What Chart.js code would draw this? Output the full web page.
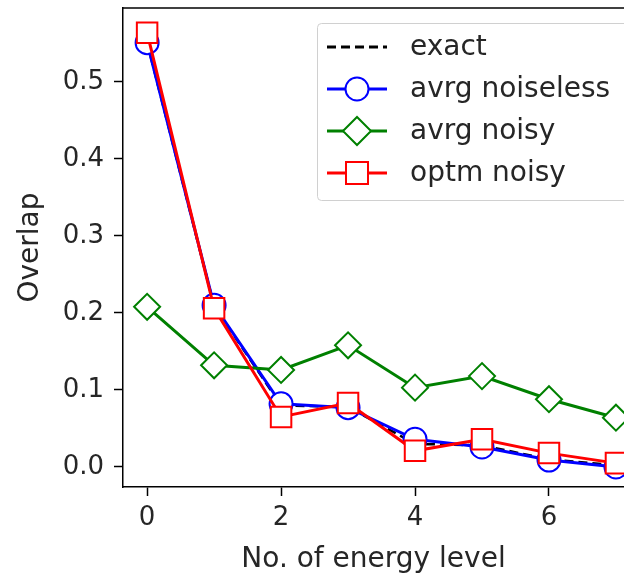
<!DOCTYPE html>
<html>
<head>
<meta charset="utf-8">
<script src="https://cdn.jsdelivr.net/npm/chart.js@4.4.1/dist/chart.umd.min.js"></script>
<style>
  html, body { margin: 0; padding: 0; background: #fff; }
  #wrap { width: 624px; height: 574px; }
</style>
</head>
<body>
<div id="wrap"><canvas id="overlapChart" width="624" height="574"></canvas></div>
<script>
// energy level index
var levels = [0, 1, 2, 3, 4, 5, 6, 7];
var exact = [0.551, 0.209, 0.080, 0.078, 0.030, 0.028, 0.010, 0.002];
var avrgNoiseless = [0.551, 0.210, 0.082, 0.077, 0.036, 0.026, 0.009, 0.000];
var avrgNoisy = [0.208, 0.132, 0.126, 0.158, 0.103, 0.118, 0.088, 0.064];
var optmNoisy = [0.564, 0.206, 0.065, 0.083, 0.021, 0.036, 0.018, 0.005];
var xTicks = [0, 2, 4, 6];
var yTicks = [0.0, 0.1, 0.2, 0.3, 0.4, 0.5];

var FONT = 'DejaVu Sans';
var TICK_SIZE = 26;
var LABEL_SIZE = 28;
var TEXT = '#262626';

function pts(ys) {
    return levels.map(function (x, i) { return { x: x, y: ys[i] }; });
}

var series = [
    { label: 'exact', data: exact, color: 'black', style: false, dash: [9, 5] },
    { label: 'avrg noiseless', data: avrgNoiseless, color: 'blue', style: 'circle', r: 11.5 },
    { label: 'avrg noisy', data: avrgNoisy, color: 'green', style: 'rectRot', r: 13 },
    { label: 'optm noisy', data: optmNoisy, color: 'red', style: 'rect', r: 14.5 }
];

// legend box drawn inside the plot, like matplotlib's "best" location
var insideLegend = {
    id: 'insideLegend',
    afterDraw: function (chart) {
        var ctx = chart.ctx;
        ctx.save();
        // top spine
        ctx.strokeStyle = '#000';
        ctx.lineWidth = 1.5;
        ctx.beginPath();
        ctx.moveTo(chart.chartArea.left, chart.chartArea.top);
        ctx.lineTo(chart.width, chart.chartArea.top);
        ctx.stroke();

        var bx = 317, by = 23, bw = 330, bh = 177;
        ctx.fillStyle = 'rgba(255,255,255,0.85)';
        ctx.strokeStyle = '#d0d0d0';
        ctx.lineWidth = 1;
        ctx.beginPath();
        ctx.roundRect(bx + 0.5, by + 0.5, bw, bh, 4);
        ctx.fill();
        ctx.stroke();

        var rows = [47, 89, 131, 173];
        ctx.font = LABEL_SIZE + 'px "' + FONT + '"';
        ctx.textBaseline = 'middle';
        series.forEach(function (s, i) {
            var y = rows[i];
            ctx.strokeStyle = s.color;
            ctx.lineWidth = 3;
            ctx.setLineDash(s.dash || []);
            ctx.beginPath();
            ctx.moveTo(327, y);
            ctx.lineTo(387, y);
            ctx.stroke();
            ctx.setLineDash([]);
            if (s.style) {
                ctx.fillStyle = '#fff';
                ctx.lineWidth = 2;
                ctx.beginPath();
                if (s.style === 'circle') {
                    ctx.arc(357, y, 11.5, 0, Math.PI * 2);
                } else if (s.style === 'rectRot') {
                    ctx.moveTo(357 - 14, y);
                    ctx.lineTo(357, y - 14);
                    ctx.lineTo(357 + 14, y);
                    ctx.lineTo(357, y + 14);
                    ctx.closePath();
                } else {
                    ctx.rect(357 - 11, y - 11, 22, 22);
                }
                ctx.fill();
                ctx.stroke();
            }
            ctx.fillStyle = TEXT;
            ctx.fillText(s.label, 410, y + 1);
        });
        ctx.restore();
    }
};

var ctx = document.getElementById('overlapChart').getContext('2d');
var overlapChart = new Chart(ctx, {
    type: 'line',
    data: {
        datasets: series.map(function (s, i) {
            return {
                label: s.label,
                data: pts(s.data),
                borderColor: s.color,
                borderWidth: s.style ? 3 : 2.5,
                borderDash: s.dash || [],
                pointStyle: s.style || 'circle',
                pointRadius: s.style ? s.r : 0,
                pointBorderWidth: 2,
                pointBorderColor: s.color,
                pointBackgroundColor: '#fff',
                tension: 0,
                fill: false,
                clip: false,
                order: series.length - i
            };
        })
    },
    options: {
        responsive: false,
        animation: false,
        events: [],
        layout: { autoPadding: false, padding: { top: 8, right: 0, left: 0, bottom: 0 } },
        scales: {
            x: {
                type: 'linear',
                min: -0.36,
                max: 7.12,
                afterBuildTicks: function (scale) {
                    scale.ticks = xTicks.map(function (v) { return { value: v }; });
                },
                afterFit: function (scale) {
                    scale.height = 87;
                    scale.paddingLeft = 0;
                    scale.paddingRight = 0;
                },
                grid: { drawOnChartArea: false, drawTicks: true, tickLength: 9, tickWidth: 1.5, tickColor: '#000' },
                border: { color: '#000', width: 1.5 },
                ticks: {
                    color: TEXT,
                    padding: 7,
                    maxRotation: 0,
                    font: { family: FONT, size: TICK_SIZE },
                    callback: function (v) { return String(v); }
                },
                title: {
                    display: true,
                    text: 'No. of energy level',
                    color: TEXT,
                    font: { family: FONT, size: LABEL_SIZE },
                    padding: { top: 0, bottom: -3 }
                }
            },
            y: {
                type: 'linear',
                min: -0.026,
                max: 0.596,
                afterBuildTicks: function (scale) {
                    scale.ticks = yTicks.map(function (v) { return { value: v }; });
                },
                afterFit: function (scale) {
                    scale.width = 123;
                    scale.paddingTop = 0;
                    scale.paddingBottom = 0;
                },
                grid: { drawOnChartArea: false, drawTicks: true, tickLength: 9, tickWidth: 1.5, tickColor: '#000' },
                border: { color: '#000', width: 1.5 },
                ticks: {
                    color: TEXT,
                    padding: 10,
                    font: { family: FONT, size: TICK_SIZE },
                    callback: function (v) { return v.toFixed(1); }
                },
                title: {
                    display: true,
                    text: 'Overlap',
                    color: TEXT,
                    font: { family: FONT, size: LABEL_SIZE },
                    padding: { top: 14, bottom: 8 }
                }
            }
        },
        plugins: {
            legend: { display: false },
            tooltip: { enabled: false }
        }
    },
    plugins: [insideLegend]
});
</script>
</body>
</html>
